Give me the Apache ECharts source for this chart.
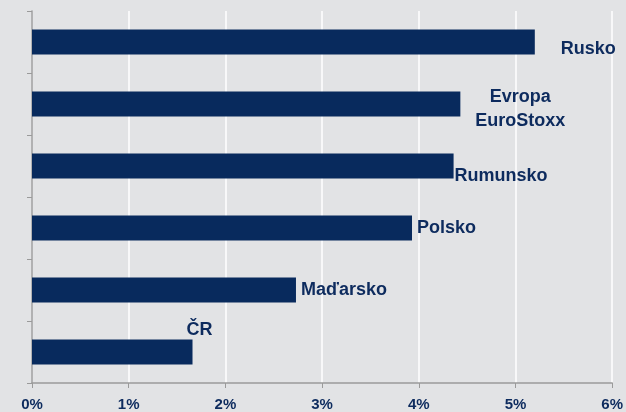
<!DOCTYPE html>
<html>
<head>
<meta charset="utf-8">
<script src="https://cdn.jsdelivr.net/npm/echarts@6/dist/echarts.min.js"></script>
<style>
  html, body { margin: 0; padding: 0; background: #e2e3e5; }
  #chart { width: 626px; height: 412px; }
</style>
</head>
<body>
<div id="chart"></div>
<script>
// categories top to bottom
const categories = ["Rusko", "Evropa\nEuroStoxx", "Rumunsko", "Polsko", "Maďarsko", "ČR"];
const values = [5.2, 4.43, 4.36, 3.93, 2.73, 1.66];
const xTicks = [0, 1, 2, 3, 4, 5, 6];

// label placement tweaks, per category
const labelOffsets = [[21, 7], [55, 5], [-4, 10], [0, 0], [0, 0], [-11, -22]];
const labelAligns = ["left", "center", "left", "left", "left", "left"];

const navy = "#082a5d";
const textColor = "#0d2b5e";

const chart = echarts.init(document.getElementById("chart"));

chart.setOption({
  backgroundColor: "#e2e3e5",
  animation: false,
  grid: { left: 32, right: 10, top: 11, bottom: 28, containLabel: false },
  xAxis: {
    type: "value",
    min: xTicks[0],
    max: xTicks[xTicks.length - 1],
    interval: 1,
    axisLine: { show: true, lineStyle: { color: "#9a9a9a", width: 1.5 } },
    axisTick: { show: true, length: 5, lineStyle: { color: "#9a9a9a" } },
    splitLine: { show: true, lineStyle: { color: "#ffffff", width: 1.5 } },
    axisLabel: {
      formatter: "{value}%",
      color: textColor,
      fontFamily: "Liberation Sans",
      fontWeight: "bold",
      fontSize: 15,
      margin: 14,
    },
  },
  yAxis: {
    type: "category",
    inverse: true,
    data: categories,
    axisLine: { show: true, lineStyle: { color: "#9a9a9a", width: 1.5 } },
    axisTick: { show: true, length: 5, lineStyle: { color: "#9a9a9a" } },
    axisLabel: { show: false },
    splitLine: { show: false },
  },
  series: [
    {
      type: "bar",
      barWidth: "40%",
      itemStyle: { color: navy },
      data: values.map((v, i) => ({
        value: v,
        label: {
          show: true,
          position: "right",
          distance: 5,
          align: labelAligns[i],
          offset: labelOffsets[i],
          formatter: () => categories[i],
          color: textColor,
          fontFamily: "Liberation Sans",
          fontWeight: "bold",
          fontSize: 18,
          lineHeight: 24,
        },
      })),
    },
  ],
});
</script>
</body>
</html>
